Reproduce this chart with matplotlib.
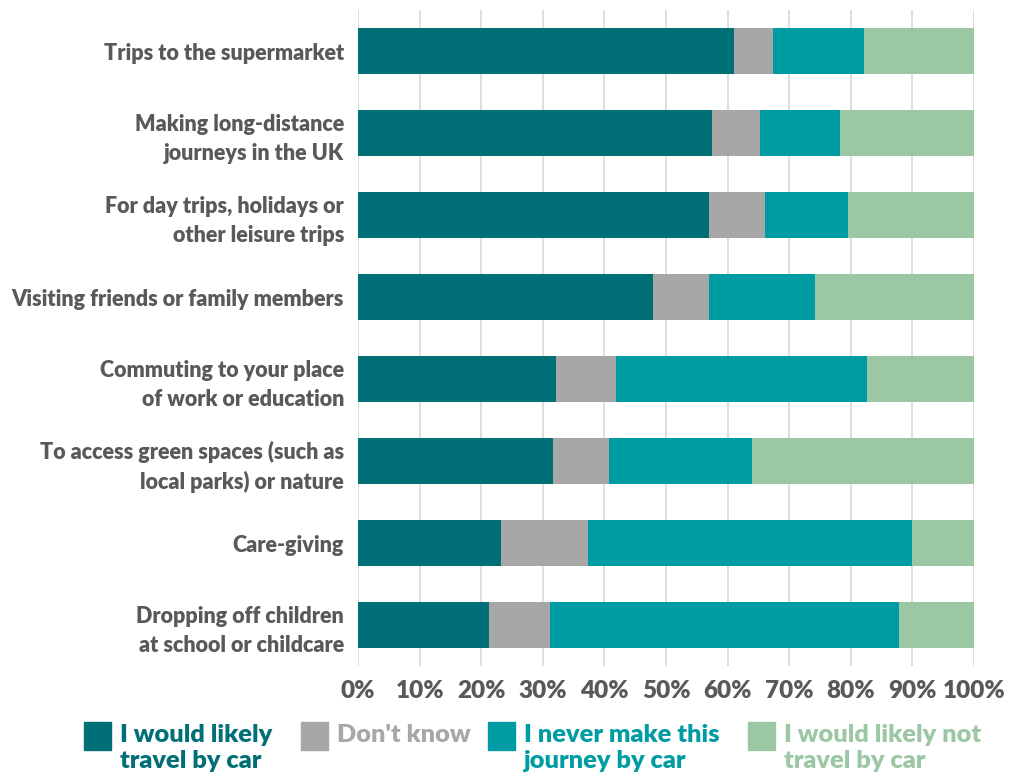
import numpy as np
import matplotlib.pyplot as plt
from matplotlib.patches import Rectangle

plt.rcParams['font.family'] = ['Lato', 'DejaVu Sans']

# -------- data --------
categories = [
    "Trips to the supermarket",
    "Making long-distance\njourneys in the UK",
    "For day trips, holidays or\nother leisure trips",
    "Visiting friends or family members",
    "Commuting to your place\nof work or education",
    "To access green spaces (such as\nlocal parks) or nature",
    "Care-giving",
    "Dropping off children\nat school or childcare",
]
likely_car = [61.0, 57.4, 57.0, 47.9, 32.1, 31.6, 23.2, 21.2]
dont_know = [6.3, 7.8, 9.1, 9.1, 9.8, 9.2, 14.2, 10.0]
never_make = [14.8, 13.1, 13.5, 17.1, 40.8, 23.1, 52.6, 56.6]
likely_not = [17.9, 21.7, 20.4, 25.9, 17.3, 36.1, 10.0, 12.2]

series_labels = ["I would likely\ntravel by car", "Don't know",
                 "I never make this\njourney by car", "I would likely not\ntravel by car"]
colors = ["#006f76", "#a8a7a8", "#009ca3", "#9cc7a4"]
xticks = [0, 10, 20, 30, 40, 50, 60, 70, 80, 90, 100]

# -------- plot --------
W, H = 1010, 781
fig = plt.figure(figsize=(W / 100, H / 100), dpi=100)
ax = fig.add_axes([0.3545, 0.147, 0.6099, 0.84])

y = np.arange(len(categories))
left = np.zeros(len(categories))
for vals, col in zip([likely_car, dont_know, never_make, likely_not], colors):
    ax.barh(y, vals, left=left, height=0.56, color=col, zorder=3)
    left += np.array(vals)

ax.set_xlim(0, 100)
ax.set_ylim(len(categories) - 0.5, -0.5)
ax.set_yticks(y)
ax.set_yticklabels(categories, fontsize=15.5, fontweight="heavy", color="#595959",
                   linespacing=1.45)
ax.set_xticks(xticks)
ax.set_xticklabels([f"{t}%" for t in xticks], fontsize=17.5, fontweight="heavy",
                   color="#595959")
ax.tick_params(axis="x", length=0, pad=10)
ax.tick_params(axis="y", length=0, pad=10)
ax.grid(axis="x", color="#d9d9d9", linewidth=1.2, zorder=0)
for s in ax.spines.values():
    s.set_visible(False)

# legend, drawn by hand (colored text, two-line labels aligned at top)
leg_x = [84, 301, 488, 748]
for px, lab, col in zip(leg_x, series_labels, colors):
    fig.add_artist(Rectangle((px / W, 1 - 750 / H), 27 / W, 28 / H,
                             transform=fig.transFigure, color=col))
    fig.text((px + 36) / W, 1 - 724 / H, lab, color=col, fontsize=18.3,
             fontweight="heavy", va="top", ha="left", linespacing=1.25)

fig.savefig("out.png", dpi=100)
